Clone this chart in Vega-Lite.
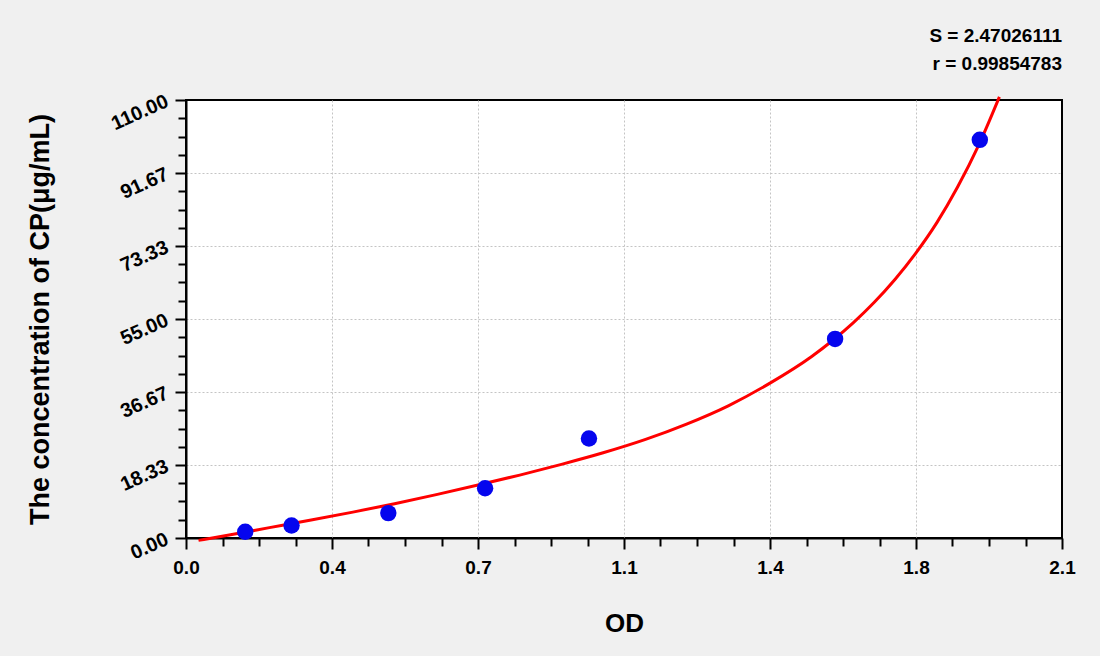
{
  "$schema": "https://vega.github.io/schema/vega-lite/v6.json",
  "autosize": "none",
  "padding": {"left": 186, "top": 100, "right": 38, "bottom": 118},
  "width": 876,
  "height": 438,
  "background": "#f0f0f0",
  "config": {
    "view": {"fill": "white", "stroke": "black", "strokeWidth": 2},
    "font": "Liberation Sans"
  },
  "title": {
    "text": "S = 2.47026111",
    "subtitle": "r = 0.99854783",
    "anchor": "end",
    "frame": "group",
    "font": "Liberation Sans",
    "fontSize": 19,
    "fontWeight": "bold",
    "color": "black",
    "subtitleFont": "Liberation Sans",
    "subtitleFontSize": 19,
    "subtitleFontWeight": "bold",
    "subtitleColor": "black",
    "subtitlePadding": 9,
    "offset": 17
  },
  "datasets": {
    "curve": [
      {"od": 0.03, "conc": -0.6},
      {"od": 0.1, "conc": 0.7},
      {"od": 0.2, "conc": 2.6},
      {"od": 0.3, "conc": 4.5},
      {"od": 0.4, "conc": 6.5},
      {"od": 0.5, "conc": 8.6},
      {"od": 0.6, "conc": 10.9},
      {"od": 0.7, "conc": 13.3},
      {"od": 0.8, "conc": 15.8},
      {"od": 0.9, "conc": 18.5},
      {"od": 1.0, "conc": 21.4},
      {"od": 1.1, "conc": 24.7},
      {"od": 1.2, "conc": 28.6},
      {"od": 1.3, "conc": 33.2},
      {"od": 1.4, "conc": 38.9},
      {"od": 1.5, "conc": 45.6},
      {"od": 1.55, "conc": 49.6},
      {"od": 1.6, "conc": 54.1},
      {"od": 1.65, "conc": 59.2},
      {"od": 1.7, "conc": 65.0},
      {"od": 1.75, "conc": 71.6},
      {"od": 1.8, "conc": 79.2},
      {"od": 1.85, "conc": 88.2},
      {"od": 1.9, "conc": 98.6},
      {"od": 1.95, "conc": 110.8}
    ],
    "standards": [
      {"od": 0.142, "conc": 1.56},
      {"od": 0.253, "conc": 3.125},
      {"od": 0.485, "conc": 6.25},
      {"od": 0.717, "conc": 12.5},
      {"od": 0.966, "conc": 25},
      {"od": 1.556, "conc": 50},
      {"od": 1.903, "conc": 100}
    ]
  },
  "resolve": {"axis": {"x": "independent", "y": "independent"}},
  "layer": [
    {
      "data": {"name": "curve"},
      "mark": {"type": "line", "color": "#ff0000", "strokeWidth": 3, "clip": false, "interpolate": "monotone"},
      "encoding": {
        "x": {
          "field": "od",
          "type": "quantitative",
          "scale": {"domain": [0, 2.1], "nice": false, "zero": false},
          "axis": {
            "orient": "bottom",
            "values": [0, 0.35, 0.7, 1.05, 1.4, 1.75, 2.1],
            "labelExpr": "format(round(datum.value * 10) / 10, '.1f')",
            "labelFlush": false,
            "tickSize": 11,
            "tickWidth": 2,
            "tickColor": "black",
            "domainColor": "black",
            "domainWidth": 2,
            "labelFont": "Liberation Sans",
            "labelFontSize": 19,
            "labelFontWeight": "bold",
            "labelColor": "black",
            "labelPadding": 9,
            "grid": true,
            "gridColor": "#c4c4c4",
            "gridDash": [2, 2],
            "gridWidth": 1,
            "gridOpacity": {"condition": {"test": "datum.value === 0 || datum.value === 2.1", "value": 0}, "value": 1},
            "title": "OD",
            "titleFont": "Liberation Sans",
            "titleFontSize": 26,
            "titleFontWeight": "bold",
            "titleColor": "black",
            "titleY": 85,
            "titleBaseline": "middle"
          }
        },
        "y": {
          "field": "conc",
          "type": "quantitative",
          "scale": {"domain": [0, 110], "nice": false},
          "axis": {
            "orient": "left",
            "values": [0, 18.333333, 36.666667, 55, 73.333333, 91.666667, 110],
            "format": ".2f",
            "labelFlush": false,
            "labelAngle": -24,
            "labelAlign": "right",
            "labelBaseline": "middle",
            "tickSize": 11,
            "tickWidth": 2,
            "tickColor": "black",
            "domainColor": "black",
            "domainWidth": 2,
            "labelFont": "Liberation Sans",
            "labelFontSize": 20,
            "labelFontWeight": "bold",
            "labelColor": "black",
            "labelPadding": 8,
            "grid": true,
            "gridColor": "#c4c4c4",
            "gridDash": [2, 2],
            "gridWidth": 1,
            "gridOpacity": {"condition": {"test": "datum.value === 0 || datum.value === 110", "value": 0}, "value": 1},
            "title": "The concentration of CP(μg/mL)",
            "titleFont": "Liberation Sans",
            "titleFontSize": 27,
            "titleFontWeight": "bold",
            "titleColor": "black",
            "titleX": -146,
            "titleY": 219,
            "titleAngle": -90,
            "titleAlign": "center",
            "titleBaseline": "middle"
          }
        }
      }
    },
    {
      "data": {"name": "standards"},
      "mark": {"type": "circle", "color": "#0505ee", "opacity": 1, "size": 270},
      "encoding": {
        "x": {
          "field": "od",
          "type": "quantitative",
          "axis": {
            "orient": "bottom",
            "values": [0.0875, 0.175, 0.2625, 0.4375, 0.525, 0.6125, 0.7875, 0.875, 0.9625, 1.1375, 1.225, 1.3125, 1.4875, 1.575, 1.6625, 1.8375, 1.925, 2.0125],
            "labels": false,
            "grid": false,
            "domain": false,
            "tickSize": 8,
            "tickWidth": 2,
            "tickColor": "black",
            "title": null
          }
        },
        "y": {
          "field": "conc",
          "type": "quantitative",
          "axis": {
            "orient": "left",
            "values": [4.583333, 9.166667, 13.75, 22.916667, 27.5, 32.083333, 41.25, 45.833333, 50.416667, 59.583333, 64.166667, 68.75, 77.916667, 82.5, 87.083333, 96.25, 100.833333, 105.416667],
            "labels": false,
            "grid": false,
            "domain": false,
            "tickSize": 8,
            "tickWidth": 2,
            "tickColor": "black",
            "title": null
          }
        }
      }
    }
  ]
}
